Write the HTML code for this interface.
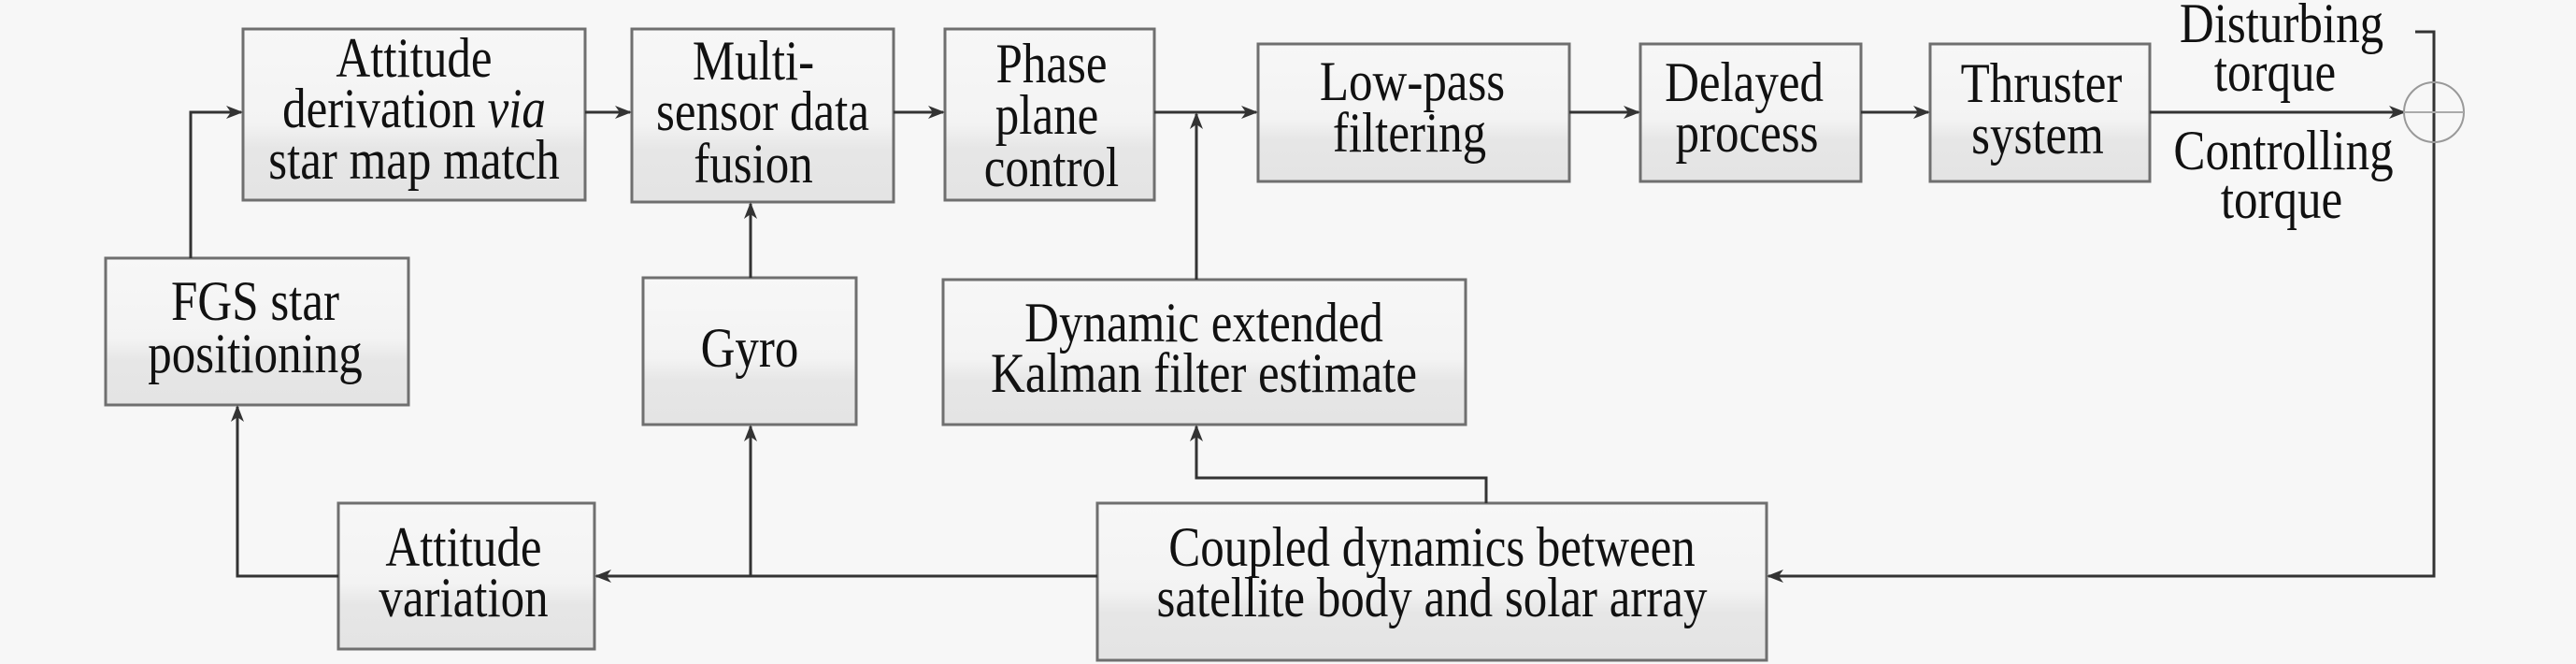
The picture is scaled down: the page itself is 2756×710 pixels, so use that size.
<!DOCTYPE html>
<html><head><meta charset="utf-8"><style>
html,body{margin:0;padding:0;background:#f7f7f7;overflow:hidden;}
svg{display:block;}
text{font-family:"Liberation Serif",serif;font-size:60px;fill:#111;}
</style></head><body>
<svg width="2756" height="710" viewBox="0 0 2756 710" xmlns="http://www.w3.org/2000/svg">
<defs>
<linearGradient id="g" x1="0" y1="0" x2="0" y2="1">
<stop offset="0" stop-color="#f7f7f7"/><stop offset="0.55" stop-color="#f3f3f3"/><stop offset="0.7" stop-color="#e6e6e6"/><stop offset="1" stop-color="#e4e4e4"/>
</linearGradient>
<marker id="a" markerWidth="18" markerHeight="14" refX="16" refY="7" orient="auto" markerUnits="userSpaceOnUse">
<path d="M0,0 L18,7 L0,14 L5,7 z" fill="#333"/>
</marker>
</defs>
<rect width="2756" height="710" fill="#f7f7f7"/>
<g fill="url(#g)" stroke="#6f6f6f" stroke-width="3">
<rect x="260" y="31" width="366" height="183"/>
<rect x="676" y="31" width="280" height="185"/>
<rect x="1011" y="31" width="224" height="183"/>
<rect x="1346" y="47" width="333" height="147"/>
<rect x="1755" y="47" width="236" height="147"/>
<rect x="2065" y="47" width="235" height="147"/>
<rect x="113" y="276" width="324" height="157"/>
<rect x="688" y="297" width="228" height="157"/>
<rect x="1009" y="299" width="559" height="155"/>
<rect x="362" y="538" width="274" height="156"/>
<rect x="1174" y="538" width="716" height="168"/>
</g>
<g fill="none" stroke="#333" stroke-width="3">
<line x1="626" y1="120" x2="674" y2="120" marker-end="url(#a)"/>
<line x1="956" y1="120" x2="1009" y2="120" marker-end="url(#a)"/>
<line x1="1235" y1="120" x2="1344" y2="120" marker-end="url(#a)"/>
<line x1="1679" y1="120" x2="1753" y2="120" marker-end="url(#a)"/>
<line x1="1991" y1="120" x2="2063" y2="120" marker-end="url(#a)"/>
<line x1="2300" y1="120" x2="2572" y2="120" marker-end="url(#a)"/>
<polyline points="2584,34 2604,34 2604,616 1892,616" marker-end="url(#a)"/>
<polyline points="204,276 204,120 258,120" marker-end="url(#a)"/>
<line x1="1280" y1="299" x2="1280" y2="122" marker-end="url(#a)"/>
<polyline points="1590,538 1590,511 1280,511 1280,456" marker-end="url(#a)"/>
<line x1="803" y1="297" x2="803" y2="218" marker-end="url(#a)"/>
<line x1="803" y1="616" x2="803" y2="456" marker-end="url(#a)"/>
<line x1="1174" y1="616" x2="638" y2="616" marker-end="url(#a)"/>
<polyline points="362,616 254,616 254,435" marker-end="url(#a)"/>
</g>
<circle cx="2604" cy="120" r="32" fill="none" stroke="#999" stroke-width="2"/>
<line x1="2572" y1="120" x2="2636" y2="120" stroke="#aaa" stroke-width="2"/>
<g text-anchor="middle">
<text transform="translate(443,82) scale(0.85,1)">Attitude</text>
<text transform="translate(443,136) scale(0.85,1)">derivation <tspan font-style="italic">via</tspan></text>
<text transform="translate(443,191) scale(0.85,1)">star map match</text>
<text transform="translate(806,85) scale(0.85,1)">Multi-</text>
<text transform="translate(816,139) scale(0.85,1)">sensor data</text>
<text transform="translate(806,195) scale(0.85,1)">fusion</text>
<text transform="translate(1125,88) scale(0.85,1)">Phase</text>
<text transform="translate(1120,143) scale(0.85,1)">plane</text>
<text transform="translate(1125,199) scale(0.85,1)">control</text>
<text transform="translate(1511,107) scale(0.85,1)">Low-pass</text>
<text transform="translate(1508,162) scale(0.85,1)">filtering</text>
<text transform="translate(1866,108) scale(0.85,1)">Delayed</text>
<text transform="translate(1869,162) scale(0.85,1)">process</text>
<text transform="translate(2184,109) scale(0.85,1)">Thruster</text>
<text transform="translate(2180,164) scale(0.85,1)">system</text>
<text transform="translate(2441,45) scale(0.85,1)">Disturbing</text>
<text transform="translate(2434,97) scale(0.85,1)">torque</text>
<text transform="translate(2443,181) scale(0.85,1)">Controlling</text>
<text transform="translate(2441,233) scale(0.85,1)">torque</text>
<text transform="translate(273,342) scale(0.85,1)">FGS star</text>
<text transform="translate(273,398) scale(0.85,1)">positioning</text>
<text transform="translate(802,392) scale(0.85,1)">Gyro</text>
<text transform="translate(1288,365) scale(0.85,1)">Dynamic extended</text>
<text transform="translate(1288,419) scale(0.85,1)">Kalman filter estimate</text>
<text transform="translate(496,605) scale(0.85,1)">Attitude</text>
<text transform="translate(496,659) scale(0.85,1)">variation</text>
<text transform="translate(1532,605) scale(0.85,1)">Coupled dynamics between</text>
<text transform="translate(1532,659) scale(0.85,1)">satellite body and solar array</text>
</g>
</svg>
</body></html>
